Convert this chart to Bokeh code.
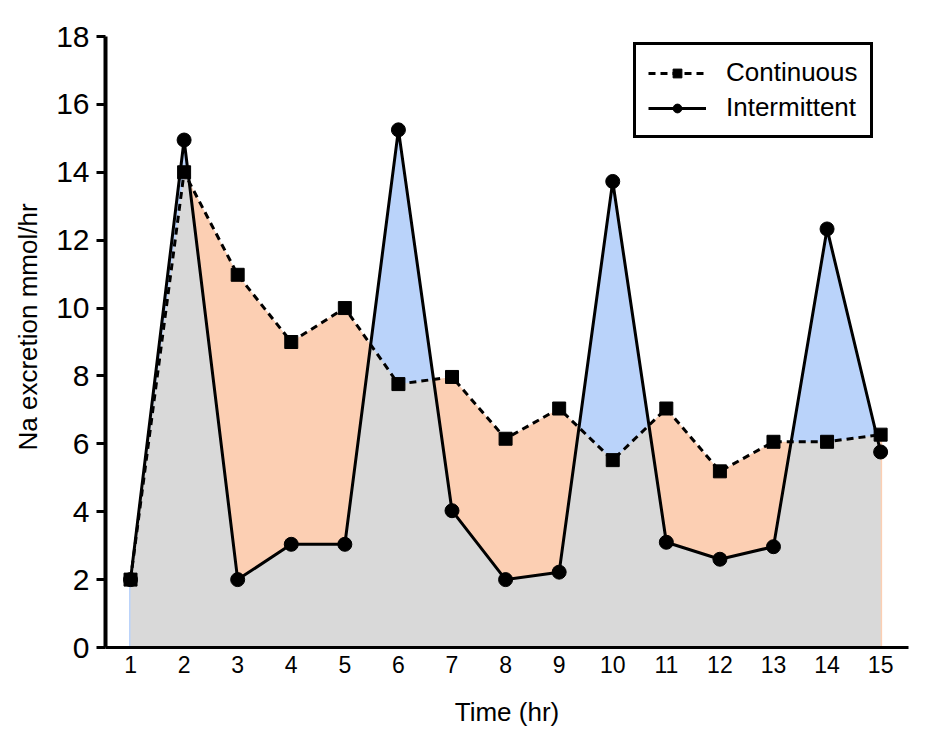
import numpy as np
from bokeh.plotting import figure
from bokeh.models import Range1d, FixedTicker, Legend, LegendItem, Title
from bokeh.embed import file_html
from bokeh.resources import INLINE

# ---- data ----
hours = list(range(1, 16))
continuous = [2.0, 14.0, 10.98, 9.0, 10.0, 7.76, 7.97, 6.15, 7.04, 5.52, 7.04, 5.19, 6.06, 6.06, 6.27]
intermittent = [2.0, 14.95, 2.0, 3.04, 3.04, 15.25, 4.03, 2.0, 2.22, 13.73, 3.1, 2.6, 2.97, 12.33, 5.76]
y_ticks = list(range(0, 19, 2))

GRAY = "#D9D9D9"
ORANGE = "#FCCFB3"
BLUE = "#BAD3FA"
FONT = "Liberation Sans"

# insert crossing points so that the fills are exact
xs, cs, ins = [hours[0]], [continuous[0]], [intermittent[0]]
for k in range(len(hours) - 1):
    x0, x1 = hours[k], hours[k + 1]
    d0 = continuous[k] - intermittent[k]
    d1 = continuous[k + 1] - intermittent[k + 1]
    if d0 * d1 < 0:
        t = d0 / (d0 - d1)
        xc = x0 + t * (x1 - x0)
        yc = continuous[k] + t * (continuous[k + 1] - continuous[k])
        xs.append(xc); cs.append(yc); ins.append(yc)
    xs.append(x1); cs.append(continuous[k + 1]); ins.append(intermittent[k + 1])
xs = np.array(xs); cs = np.array(cs); ins = np.array(ins)
mins = np.minimum(cs, ins)

X0, X1 = 0.533, 15.52
p = figure(width=920, height=740, output_backend="svg", toolbar_location=None,
           x_range=Range1d(X0, X1), y_range=Range1d(0, 18),
           min_border_left=105, min_border_top=36, min_border_right=12, min_border_bottom=93)
p.outline_line_color = None
p.xgrid.visible = False
p.ygrid.visible = False
p.background_fill_color = "white"

# fills
p.varea(x=xs, y1=0, y2=cs, fill_color=ORANGE)
p.varea(x=xs, y1=0, y2=ins, fill_color=BLUE)
p.segment(x0=hours[0], y0=0, x1=hours[0], y1=intermittent[0], line_color=BLUE, line_width=3)
p.segment(x0=hours[-1], y0=0, x1=hours[-1], y1=continuous[-1], line_color=ORANGE, line_width=3)
p.varea(x=xs, y1=0, y2=mins, fill_color=GRAY)
p.segment(x0=hours[0], y0=0, x1=hours[-1], y1=0, line_color="#1C3557", line_width=3)

# lines and markers
l_int = p.line(hours, intermittent, line_color="black", line_width=3)
m_int = p.scatter(hours, intermittent, marker="circle", size=14, fill_color="black", line_color="black")
l_con = p.line(hours, continuous, line_color="black", line_width=3, line_dash="7 5")
m_con = p.scatter(hours, continuous, marker="square", size=13, fill_color="black", line_color="black")

# axes
p.xaxis.ticker = FixedTicker(ticks=hours)
p.yaxis.ticker = FixedTicker(ticks=y_ticks)
for ax in (p.xaxis[0], p.yaxis[0]):
    ax.axis_line_color = "black"
    ax.major_tick_line_color = "black"
    ax.minor_tick_line_color = None
    ax.major_tick_in = 0
    ax.major_label_text_font = FONT
    ax.major_label_text_color = "black"
    ax.axis_label_text_font = FONT
    ax.axis_label_text_font_style = "normal"
    ax.axis_label_text_color = "black"
p.yaxis.axis_line_width = 4
p.yaxis.major_tick_line_width = 3
p.yaxis.major_tick_out = 9
p.yaxis.major_label_text_font_size = "30px"
p.yaxis.major_label_standoff = 7
p.yaxis.axis_label_standoff = 0

p.xaxis.axis_line_width = 3
p.xaxis.major_tick_out = 0
p.xaxis.major_tick_line_color = None
p.xaxis.major_label_text_font_size = "23px"
p.xaxis.major_label_standoff = 8
p.xaxis.axis_label = "Time (hr)"
p.xaxis.axis_label_text_font_size = "26px"
p.xaxis.axis_label_standoff = 21

ytitle = Title(text="Na excretion mmol/hr", align="left", offset=197,
               vertical_align="bottom", standoff=21, text_font=FONT,
               text_font_size="26px", text_font_style="normal", text_color="black")
p.add_layout(ytitle, "left")

legend = Legend(items=[LegendItem(label="Continuous", renderers=[l_con, m_con]),
                       LegendItem(label="Intermittent", renderers=[l_int, m_int])],
                location=(528, 509))
legend.label_text_font = FONT
legend.label_text_font_size = "26px"
legend.label_text_color = "black"
legend.glyph_width = 58
legend.glyph_height = 22
legend.label_standoff = 20
legend.padding = 12
legend.spacing = 4
legend.margin = 0
legend.border_line_color = "black"
legend.border_line_alpha = 1
legend.border_line_width = 3
legend.background_fill_color = "white"
legend.background_fill_alpha = 1
p.add_layout(legend)

open("out.html", "w").write(file_html(p, INLINE))
